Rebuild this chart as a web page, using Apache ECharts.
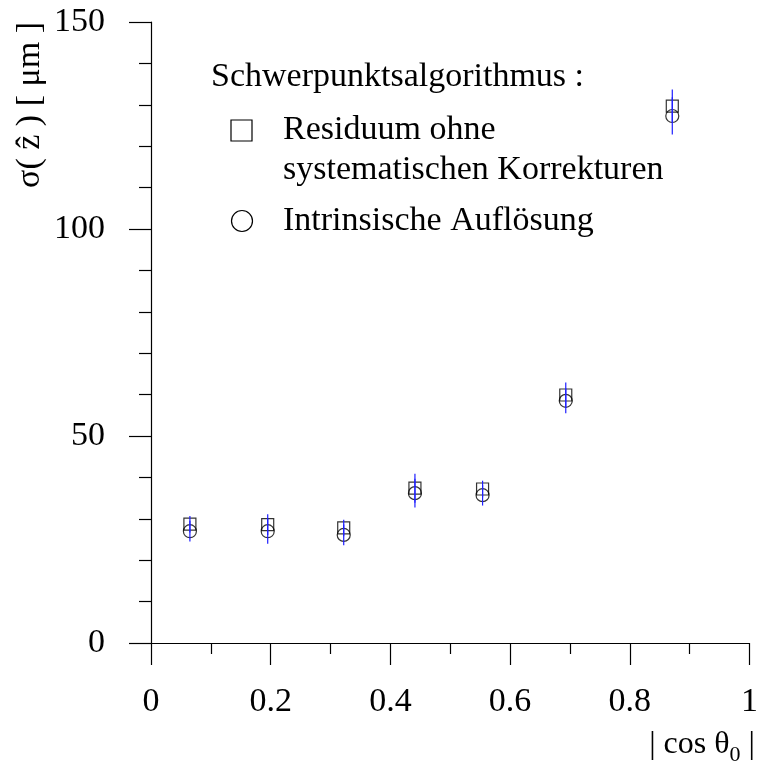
<!DOCTYPE html>
<html>
<head>
<meta charset="utf-8">
<script src="https://cdn.jsdelivr.net/npm/echarts@6/dist/echarts.min.js"></script>
<style>
  html, body { margin: 0; padding: 0; background: #fff; }
  #chart { width: 761px; height: 767px; }
</style>
</head>
<body>
<div id="chart"></div>
<script>
// |cos theta_0| bin centres
const cosTheta = [0.065, 0.195, 0.322, 0.441, 0.554, 0.693, 0.871];
// Residual width without systematic corrections (µm) and its error
const residuum = [28.7, 28.6, 27.8, 37.4, 37.2, 59.9, 129.7];
const residuumErr = [2.0, 2.5, 2.0, 3.5, 2.0, 3.0, 4.0];
// Intrinsic resolution (µm) and its error
const intrinsic = [27.0, 27.0, 26.1, 36.2, 35.7, 58.5, 127.3];
const intrinsicErr = [2.5, 3.0, 2.5, 3.5, 2.5, 3.0, 4.5];
// Axis tick labels
const xTicks = [0, 0.2, 0.4, 0.6, 0.8, 1];
const yTicks = [0, 50, 100, 150];

const FONT = '"Liberation Serif", "DejaVu Serif", serif';
const FS = 34;
const chart = echarts.init(document.getElementById('chart'), null, { renderer: 'canvas' });

function pts(xs, ys) { return xs.map((x, i) => [x, ys[i]]); }
function errPts(xs, ys, es) { return xs.map((x, i) => [x, ys[i] - es[i], ys[i] + es[i]]); }

function errorBarSeries(data) {
  return {
    type: 'custom',
    z: 5,
    silent: true,
    data: data,
    renderItem: function (params, api) {
      const lo = api.coord([api.value(0), api.value(1)]);
      const hi = api.coord([api.value(0), api.value(2)]);
      return {
        type: 'line',
        shape: { x1: lo[0], y1: lo[1], x2: hi[0], y2: hi[1] },
        style: { stroke: '#1f1fff', lineWidth: 1.2 }
      };
    }
  };
}

chart.setOption({
  animation: false,
  backgroundColor: '#fff',
  grid: { left: 151, right: 5, top: 22, bottom: 124, containLabel: false },
  xAxis: {
    type: 'value', min: 0, max: 1, interval: 0.2,
    axisLine: { show: true, lineStyle: { color: '#000', width: 1.2 } },
    axisTick: { show: true, inside: false, length: 22, lineStyle: { color: '#000', width: 1.2 } },
    minorTick: { show: true, splitNumber: 2, length: 11, lineStyle: { color: '#000', width: 1.2 } },
    splitLine: { show: false },
    axisLabel: {
      margin: 42, fontFamily: FONT, fontSize: FS, color: '#000',
      formatter: v => xTicks.includes(+v.toFixed(1)) ? String(+v.toFixed(1)) : ''
    }
  },
  yAxis: {
    type: 'value', min: 0, max: 150, interval: 50,
    axisLine: { show: true, lineStyle: { color: '#000', width: 1.2 } },
    axisTick: { show: true, inside: false, length: 22, lineStyle: { color: '#000', width: 1.2 } },
    minorTick: { show: true, splitNumber: 5, length: 12, lineStyle: { color: '#000', width: 1.2 } },
    splitLine: { show: false },
    axisLabel: {
      margin: 46, fontFamily: FONT, fontSize: FS, color: '#000',
      formatter: v => yTicks.includes(v) ? String(v) : ''
    }
  },
  series: [
    {
      type: 'scatter', name: 'Residuum', z: 3,
      symbol: 'rect', symbolSize: 12,
      itemStyle: { color: 'rgba(255,255,255,0)', borderColor: '#000', borderWidth: 1.2 },
      data: pts(cosTheta, residuum)
    },
    {
      type: 'scatter', name: 'Intrinsisch', z: 3,
      symbol: 'circle', symbolSize: 13,
      itemStyle: { color: 'rgba(255,255,255,0)', borderColor: '#000', borderWidth: 1.2 },
      data: pts(cosTheta, intrinsic)
    },
    errorBarSeries(errPts(cosTheta, residuum, residuumErr)),
    errorBarSeries(errPts(cosTheta, intrinsic, intrinsicErr))
  ],
  graphic: [
    // y-axis title
    {
      type: 'text', x: 13, y: 22, rotation: Math.PI / 2, originX: 0, originY: 0,
      style: {
        text: 'σ( z\u0302 ) [ μm ]', fontFamily: FONT, fontSize: FS, fill: '#000',
        textAlign: 'right', textVerticalAlign: 'top'
      }
    },
    // x-axis title with subscript
    {
      type: 'text', x: 755, y: 745,
      style: {
        text: '{a|| cos θ}{s|0}{a| |}',
        rich: {
          a: { fontFamily: FONT, fontSize: 32, color: '#000' },
          s: { fontFamily: FONT, fontSize: 22, color: '#000', padding: [20, 0, 0, 0] }
        },
        textAlign: 'right', textVerticalAlign: 'middle'
      }
    },
    // legend
    {
      type: 'text', x: 211, y: 77,
      style: { text: 'Schwerpunktsalgorithmus :', fontFamily: FONT, fontSize: FS, fill: '#000', textVerticalAlign: 'middle' }
    },
    {
      type: 'rect', shape: { x: 231, y: 120, width: 21, height: 21 },
      style: { fill: 'none', stroke: '#000', lineWidth: 1.2 }
    },
    {
      type: 'text', x: 283, y: 130,
      style: { text: 'Residuum ohne', fontFamily: FONT, fontSize: FS, fill: '#000', textVerticalAlign: 'middle' }
    },
    {
      type: 'text', x: 283, y: 170,
      style: { text: 'systematischen Korrekturen', fontFamily: FONT, fontSize: FS, fill: '#000', textVerticalAlign: 'middle' }
    },
    {
      type: 'circle', shape: { cx: 242, cy: 221, r: 10.5 },
      style: { fill: 'none', stroke: '#000', lineWidth: 1.2 }
    },
    {
      type: 'text', x: 283, y: 221,
      style: { text: 'Intrinsische Auflösung', fontFamily: FONT, fontSize: FS, fill: '#000', textVerticalAlign: 'middle' }
    }
  ]
});
</script>
</body>
</html>
